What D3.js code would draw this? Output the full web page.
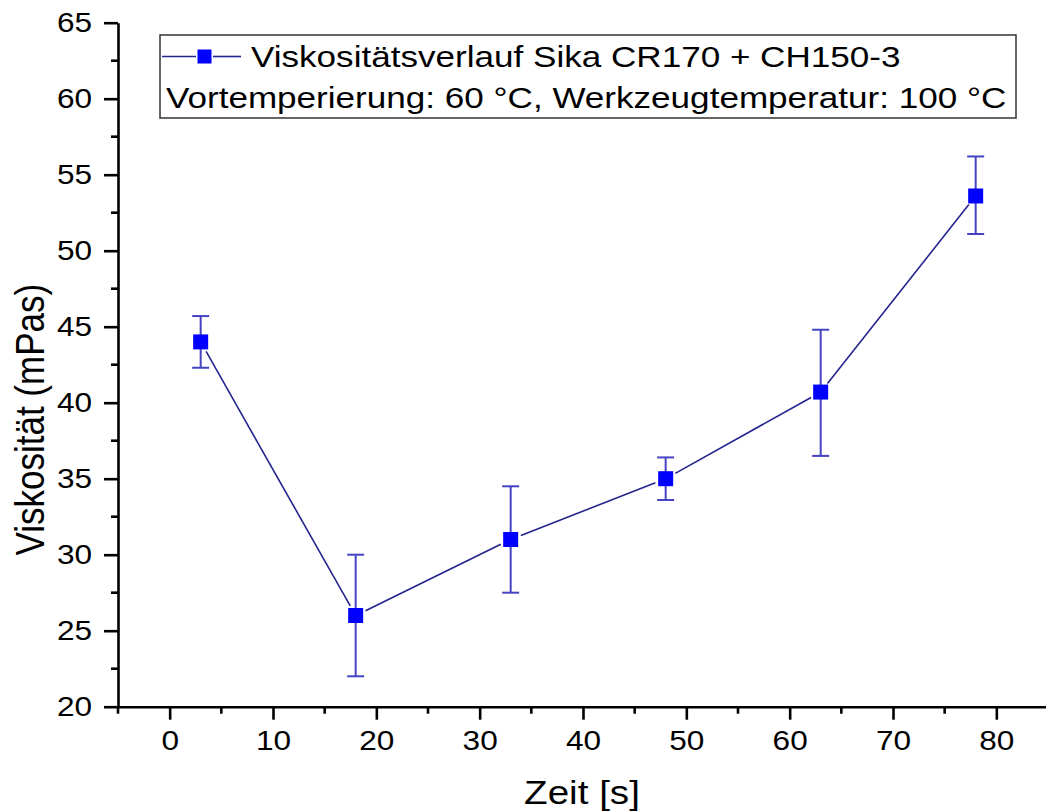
<!DOCTYPE html>
<html>
<head>
<meta charset="utf-8">
<script src="https://cdn.jsdelivr.net/npm/d3@7"></script>
<style>
  html, body { margin: 0; padding: 0; background: #fff; }
  svg { display: block; }
  text { font-family: Arial, "Liberation Sans", sans-serif; fill: #000; }
</style>
</head>
<body>
<svg id="chart" width="1046" height="811"></svg>
<script>
// Measured viscosity over time (mean with error range)
const zeit = [3, 18, 33, 48, 63, 78];
const viskositaet = [44.0, 26.0, 31.0, 35.0, 40.7, 53.6];
const fehlerOben = [45.7, 30.0, 34.5, 36.4, 44.8, 56.2];
const fehlerUnten = [42.3, 22.0, 27.5, 33.6, 36.5, 51.1];

const xTicks = [0, 10, 20, 30, 40, 50, 60, 70, 80];
const xMinorTicks = [-5, 5, 15, 25, 35, 45, 55, 65, 75];
const yTicks = [20, 25, 30, 35, 40, 45, 50, 55, 60, 65];
const yMinorTicks = [22.5, 27.5, 32.5, 37.5, 42.5, 47.5, 52.5, 57.5, 62.5];

const legendLines = [
  "Viskositätsverlauf Sika CR170 + CH150-3",
  "Vortemperierung: 60 °C, Werkzeugtemperatur: 100 °C"
];
const xTitle = "Zeit [s]";
const yTitle = "Viskosität (mPas)";

const svg = d3.select("#chart");

const x = d3.scaleLinear().domain([-5, 85]).range([118, 1048]);
const y = d3.scaleLinear().domain([20, 65]).range([706.7, 22.7]);

const markerColor = "#0000ff";
const lineColor = "#24248f";
const errColor = "#4343c4";

// Text is drawn slightly widened; the anchor x stays where it is
const sx = 1.17;
function widen(sel) {
  sel.each(function () {
    const t = d3.select(this);
    const ax = +t.attr("x") || 0;
    t.attr("transform", `translate(${ax * (1 - sx)},0) scale(${sx},1)`);
  });
}

// Axes
const axisG = svg.append("g");

const yAxis = axisG.append("g").attr("transform", `translate(${x(-5)},0)`)
  .call(d3.axisLeft(y).tickValues(yTicks).tickSize(14).tickPadding(12).tickSizeOuter(0));
yAxis.append("g").selectAll("line").data(yMinorTicks).join("line")
  .attr("x1", -7).attr("x2", 0).attr("y1", d => y(d)).attr("y2", d => y(d));

const xAxis = axisG.append("g").attr("transform", `translate(0,${y(20)})`)
  .call(d3.axisBottom(x).tickValues(xTicks).tickSize(13).tickPadding(11).tickSizeOuter(0));
xAxis.append("g").selectAll("line").data(xMinorTicks).join("line")
  .attr("y1", 0).attr("y2", 7).attr("x1", d => x(d)).attr("x2", d => x(d));

[yAxis, xAxis].forEach(g => {
  g.selectAll("path.domain").attr("stroke", "#000").attr("stroke-width", 2.6);
  g.selectAll("line").attr("stroke", "#000").attr("stroke-width", 2.6);
  g.selectAll("text").style("font-size", "27px").attr("fill", "#000")
    .style("font-family", "Arial, 'Liberation Sans', sans-serif")
    .call(widen);
});

// Axis titles
svg.append("text")
  .attr("x", (x(-5) + 1046) / 2).attr("y", 804)
  .attr("text-anchor", "middle").style("font-size", "33px")
  .text(xTitle).call(widen);
svg.append("text")
  .attr("transform", `translate(44,${(y(65) + y(20)) / 2 + 55}) scale(${sx},1) rotate(-90)`)
  .attr("text-anchor", "middle").style("font-size", "35px")
  .text(yTitle);

// Data
const pts = zeit.map((t, i) => ({ t, v: viskositaet[i], hi: fehlerOben[i], lo: fehlerUnten[i] }));

// Connecting segments, stopping short of the markers
const gap = 11;
const segs = d3.pairs(pts).map(([a, b]) => {
  const x1 = x(a.t), y1 = y(a.v), x2 = x(b.t), y2 = y(b.v);
  const len = Math.hypot(x2 - x1, y2 - y1);
  const ux = (x2 - x1) / len, uy = (y2 - y1) / len;
  return [x1 + ux * gap, y1 + uy * gap, x2 - ux * gap, y2 - uy * gap];
});
svg.append("g").selectAll("line").data(segs).join("line")
  .attr("x1", d => d[0]).attr("y1", d => d[1]).attr("x2", d => d[2]).attr("y2", d => d[3])
  .attr("stroke", lineColor).attr("stroke-width", 1.6);

// Error bars
const eb = svg.append("g").attr("stroke", errColor).attr("stroke-width", 2);
eb.selectAll("line.v").data(pts).join("line").attr("class", "v")
  .attr("x1", d => x(d.t)).attr("x2", d => x(d.t))
  .attr("y1", d => y(d.hi)).attr("y2", d => y(d.lo));
eb.selectAll("line.hi").data(pts).join("line").attr("class", "hi")
  .attr("x1", d => x(d.t) - 8.5).attr("x2", d => x(d.t) + 8.5)
  .attr("y1", d => y(d.hi)).attr("y2", d => y(d.hi));
eb.selectAll("line.lo").data(pts).join("line").attr("class", "lo")
  .attr("x1", d => x(d.t) - 8.5).attr("x2", d => x(d.t) + 8.5)
  .attr("y1", d => y(d.lo)).attr("y2", d => y(d.lo));

// Markers
const ms = 15;
svg.append("g").selectAll("rect").data(pts).join("rect")
  .attr("x", d => x(d.t) - ms / 2).attr("y", d => y(d.v) - ms / 2)
  .attr("width", ms).attr("height", ms).attr("fill", markerColor);

// Legend
const lg = svg.append("g");
lg.append("rect").attr("x", 160).attr("y", 35).attr("width", 856).attr("height", 83)
  .attr("fill", "#fff").attr("stroke", "#333").attr("stroke-width", 1.5);
lg.append("line").attr("x1", 162).attr("x2", 196).attr("y1", 56.5).attr("y2", 56.5)
  .attr("stroke", lineColor).attr("stroke-width", 1.6);
lg.append("line").attr("x1", 213).attr("x2", 241).attr("y1", 56.5).attr("y2", 56.5)
  .attr("stroke", lineColor).attr("stroke-width", 1.6);
lg.append("rect").attr("x", 197.5).attr("y", 49.5).attr("width", 14).attr("height", 14)
  .attr("fill", markerColor);
lg.append("text").attr("x", 251).attr("y", 67).style("font-size", "30px")
  .text(legendLines[0]).call(widen);
lg.append("text").attr("x", 166).attr("y", 108).style("font-size", "30px")
  .text(legendLines[1]).call(widen);
</script>
</body>
</html>
